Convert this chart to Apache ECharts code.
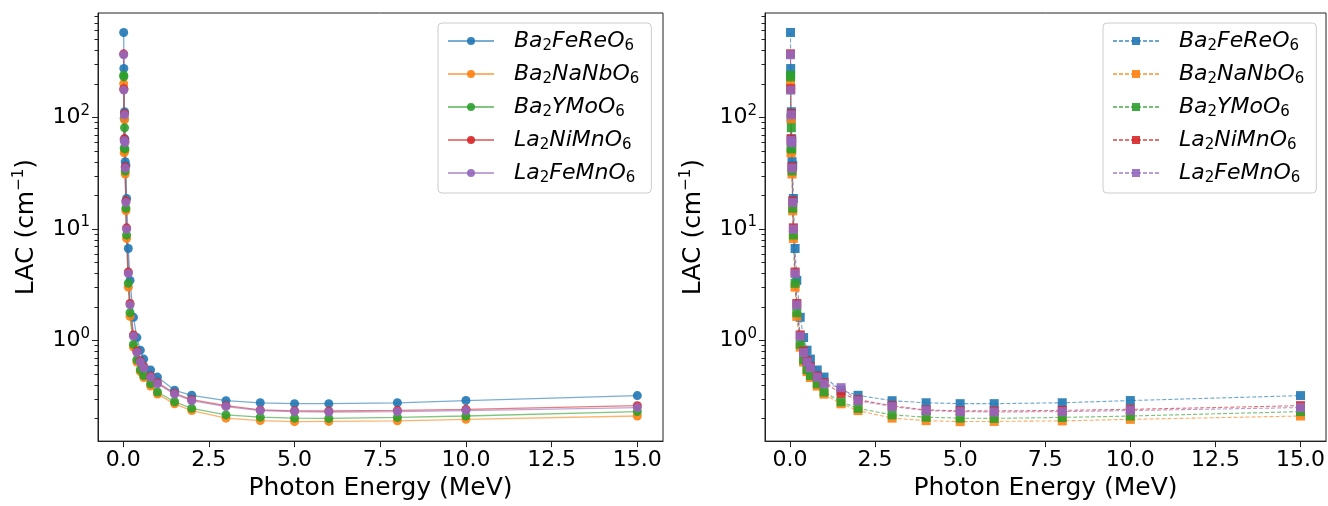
<!DOCTYPE html>
<html><head><meta charset="utf-8">
<script src="https://cdn.jsdelivr.net/npm/echarts@6/dist/echarts.min.js"></script>
<style>html,body{margin:0;padding:0;background:#fff}#c{width:1328px;height:506px}</style>
</head><body><div id="c"></div>
<script>
// ---- data (Photon energy in MeV, LAC in cm^-1) ----
const energies = [0.015,0.02,0.03,0.04,0.05,0.06,0.08,0.1,0.15,0.2,0.3,0.4,0.5,0.6,0.8,1,1.5,2,3,4,5,6,8,10,15];
const seriesNames = ['Ba2FeReO6','Ba2NaNbO6','Ba2YMoO6','La2NiMnO6','La2FeMnO6'];
const ba2fereo6 = [575,273,98,112,64,40,37,18.7,6.66,3.45,1.61,1.06,0.817,0.68,0.543,0.469,0.357,0.322,0.288,0.276,0.271,0.271,0.276,0.289,0.32];
const ba2nanbo6 = [200,178,48,95,50,31,14.5,8.2,3.0,1.64,0.87,0.64,0.525,0.465,0.39,0.33,0.27,0.235,0.201,0.191,0.187,0.188,0.19,0.196,0.21];
const ba2ymoo6  = [238,230,53,80.5,52,33,15.3,8.8,3.25,1.77,0.922,0.67,0.547,0.484,0.409,0.345,0.282,0.246,0.215,0.205,0.201,0.2,0.204,0.21,0.23];
const la2nimno6 = [370,180,64,108,61,36,17.8,10.2,4.1,2.14,1.12,0.8,0.655,0.58,0.48,0.418,0.336,0.294,0.26,0.238,0.234,0.233,0.236,0.241,0.26];
const la2femno6 = [363,175,62,105,59,35,17.2,9.9,3.98,2.08,1.09,0.778,0.64,0.566,0.469,0.409,0.33,0.288,0.255,0.235,0.23,0.228,0.23,0.235,0.25];
const la2femno6Right = [363,175,62,105,59,35,17.2,9.9,3.98,2.08,1.09,0.778,0.64,0.566,0.469,0.409,0.377,0.288,0.255,0.235,0.23,0.228,0.23,0.235,0.25];
const xTickValues = [0,2.5,5,7.5,10,12.5,15];
const yMajorTicks = [1,10,100];
const yMinorTicks = [0.2,0.3,0.4,0.5,0.6,0.7,0.8,0.9,2,3,4,5,6,7,8,9,20,30,40,50,60,70,80,90,200,300,400,500,600,700,800];

const leftData = [ba2fereo6, ba2nanbo6, ba2ymoo6, la2nimno6, la2femno6];
const rightData = [ba2fereo6, ba2nanbo6, ba2ymoo6, la2nimno6, la2femno6Right];
const colors = ['#1f77b4','#ff7f0e','#2ca02c','#d62728','#9467bd'];
const FONT = 'DejaVu Sans';

// matplotlib-like 5% margins
const eMin = Math.min(...energies), eMax = Math.max(...energies);
const xMin = eMin - 0.05 * (eMax - eMin), xMax = eMax + 0.05 * (eMax - eMin);
const allV = leftData.flat().concat(rightData.flat());
const lMin = Math.log10(Math.min(...allV)), lMax = Math.log10(Math.max(...allV));
const yMin = Math.pow(10, lMin - 0.05 * (lMax - lMin));
const yMax = Math.pow(10, lMax + 0.05 * (lMax - lMin));

const grids = [
  {left: 98, top: 13, width: 565, height: 435},
  {left: 765, top: 13, width: 561, height: 435}
];

function xAxisFor(i) {
  return {
    type: 'value', gridIndex: i, min: xMin, max: xMax,
    name: 'Photon Energy (MeV)', nameLocation: 'middle', nameGap: 32,
    nameTextStyle: {fontFamily: FONT, fontSize: 25, color: '#000'},
    splitLine: {show: false},
    axisLine: {show: true, onZero: false, lineStyle: {color: '#222', width: 1}},
    axisTick: {show: true, customValues: xTickValues, length: 6, lineStyle: {color: '#222', width: 1}},
    axisLabel: {customValues: xTickValues, margin: 8, fontFamily: FONT, fontSize: 22, color: '#000',
      formatter: v => Number(v).toFixed(1)}
  };
}
function yAxisFor(i) {
  return {
    type: 'log', logBase: 10, gridIndex: i, min: yMin, max: yMax,
    name: 'LAC (cm{sup|−1})', nameLocation: 'middle', nameGap: 58, nameRotate: 90,
    nameTextStyle: {fontFamily: FONT, fontSize: 25, color: '#000', lineHeight: 28,
      rich: {sup: {fontFamily: FONT, fontSize: 15, lineHeight: 15, verticalAlign: 'top', color: '#000'}}},
    splitLine: {show: false},
    axisLine: {show: true, onZero: false, lineStyle: {color: '#222', width: 1}},
    axisTick: {show: false},
    minorTick: {show: false},
    axisLabel: {
      margin: 8, showMinLabel: false, showMaxLabel: false,
      formatter: v => {
        const l = Math.log10(v), r = Math.round(l);
        if (Math.abs(l - r) > 1e-6) return '';
        return '{b|10}{s|' + r + '}';
      },
      rich: {
        b: {fontFamily: FONT, fontSize: 22, lineHeight: 28, verticalAlign: 'middle', color: '#000'},
        s: {fontFamily: FONT, fontSize: 15, lineHeight: 15, verticalAlign: 'top', color: '#000'}
      }
    }
  };
}
function tickSeries(i, values, len) {
  return {
    type: 'custom', xAxisIndex: i, yAxisIndex: i, silent: true, clip: false, z: 10,
    data: values.map(v => [xMin, v]),
    renderItem: (params, api) => {
      const p = api.coord([api.value(0), api.value(1)]);
      const x0 = params.coordSys.x;
      const y = Math.round(p[1]) + 0.5;
      return {type: 'line', shape: {x1: x0 - len, y1: y, x2: x0, y2: y},
        style: {stroke: '#222', lineWidth: 1}};
    }
  };
}

const series = [];
leftData.forEach((arr, k) => {
  series.push({
    name: seriesNames[k], type: 'line', xAxisIndex: 0, yAxisIndex: 0,
    data: energies.map((e, j) => [e, arr[j]]),
    symbol: 'circle', symbolSize: 9, showAllSymbol: true,
    lineStyle: {color: colors[k], width: 1.3, opacity: 0.6},
    itemStyle: {color: colors[k], opacity: 0.9},
    emphasis: {disabled: true}
  });
});
rightData.forEach((arr, k) => {
  series.push({
    name: seriesNames[k] + '\u200b', type: 'line', xAxisIndex: 1, yAxisIndex: 1,
    data: energies.map((e, j) => [e, arr[j]]),
    symbol: 'rect', symbolSize: 9, showAllSymbol: true,
    lineStyle: {color: colors[k], width: 1.1, type: [4, 2], opacity: 0.65},
    itemStyle: {color: colors[k], opacity: 0.9},
    emphasis: {disabled: true}
  });
});
[0, 1].forEach(i => {
  series.push(tickSeries(i, yMajorTicks, 6));
  series.push(tickSeries(i, yMinorTicks, 3.5));
});

function legendFormatter(name) {
  const n = name.replace(/\u200b/g, '');
  return '{sp| }' + n.replace(/([A-Za-z]+)|(\d+)/g, (m, a, d) => a ? '{i|' + a + '}' : '{s|' + d + '}');
}
const legendRich = {
  sp: {width: 15, fontSize: 22, lineHeight: 26},
  i: {fontFamily: FONT, fontStyle: 'italic', fontSize: 22, lineHeight: 26, verticalAlign: 'middle', color: '#000'},
  s: {fontFamily: FONT, fontSize: 15, lineHeight: 15, verticalAlign: 'bottom', color: '#000'}
};
function legendFor(left, names) {
  return {
    orient: 'vertical', left: left, top: 23, data: names,
    itemWidth: 46, itemHeight: 10, itemGap: 9,
    padding: [7, 12, 7, 9],
    borderColor: '#cccccc', borderWidth: 1, borderRadius: 4, backgroundColor: 'rgba(255,255,255,0.8)',
    formatter: legendFormatter,
    textStyle: {fontFamily: FONT, fontSize: 22, color: '#000', rich: legendRich},
    selectedMode: false
  };
}

const chart = echarts.init(document.getElementById('c'), null, {renderer: 'canvas'});
chart.setOption({
  animation: false,
  backgroundColor: '#fff',
  grid: grids.map(g => Object.assign({show: true, borderColor: '#222', borderWidth: 1, backgroundColor: 'transparent'}, g)),
  xAxis: [xAxisFor(0), xAxisFor(1)],
  yAxis: [yAxisFor(0), yAxisFor(1)],
  legend: [legendFor(438, seriesNames), legendFor(1103, seriesNames.map(n => n + '\u200b'))],
  series: series
});
</script></body></html>
